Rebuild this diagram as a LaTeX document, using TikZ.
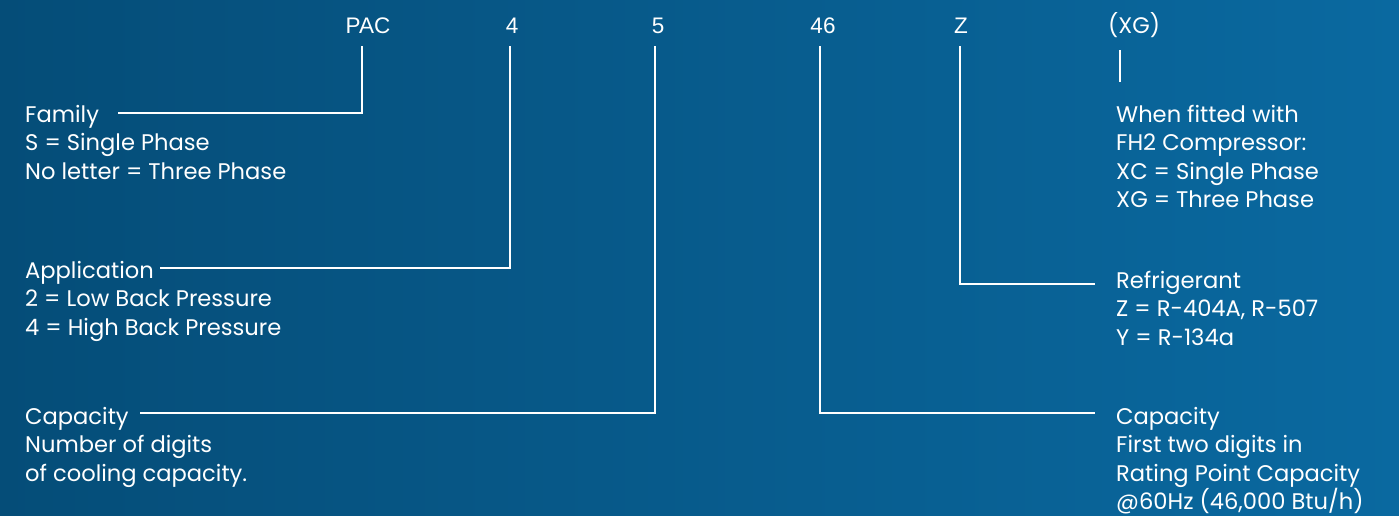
\documentclass[tikz,border=0pt]{standalone}
\usepackage{fontspec}
\setmainfont{Poppins}
\newfontfamily\labfont{Liberation Sans}
\definecolor{bgleft}{HTML}{054D78}
\definecolor{bgright}{HTML}{0A69A0}
\begin{document}
\begin{tikzpicture}[x=1pt,y=-1pt,
  toplab/.style={text=white,font=\labfont\fontsize{22.5}{26}\selectfont,inner sep=0pt,anchor=base},
  body/.style={text=white,font=\fontsize{22.6}{28.6}\selectfont,inner sep=0pt,anchor=base west,align=left},
  conn/.style={draw=white,line width=2pt}]
\useasboundingbox (0,0) rectangle (1399,515);
\shade[left color=bgleft,right color=bgright] (0,0) rectangle (1399,515);
% top code labels
\node[toplab] (pac) at (368,33) {PAC};
\node[toplab] (n4) at (512,33) {4};
\node[toplab] (n5) at (658,33) {5};
\node[toplab] (n46) at (823,33) {46};
\node[toplab] (nz) at (961,33) {Z};
\node[toplab,font=\fontsize{22.5}{26}\selectfont] (nxg) at (1134,33) {(XG)};
% description blocks (base anchor = last line)
\node[body] (family) at (25,179.2) {Family\\S = Single Phase\\No letter = Three Phase};
\node[body] (app) at (25,335.2) {Application\\2 = Low Back Pressure\\4 = High Back Pressure};
\node[body] (capl) at (25,481.2) {Capacity\\Number of digits\\of cooling capacity.};
\node[body] (xgtxt) at (1116,207.8) {When fitted with\\FH2 Compressor:\\XC = Single Phase\\XG = Three Phase};
\node[body] (refr) at (1116,345.2) {Refrigerant\\Z = R-404A, R-507\\Y = R-134a};
\node[body] (capr) at (1116,509.8) {Capacity\\First two digits in\\Rating Point Capacity\\@60Hz (46,000 Btu/h)};
% connector end points
\coordinate (e1) at (118,113);
\coordinate (e2) at (160,268);
\coordinate (e3) at (140,413);
\coordinate (e4) at (1095,413);
\coordinate (e5) at (1095,284);
\coordinate (e6) at (1120,82);
\draw[conn] (pac.south -| 362,0) ++(0,13) -- (362,113) -- (e1);
\draw[conn] (n4.south -| 510,0) ++(0,13) -- (510,268) -- (e2);
\draw[conn] (n5.south -| 655,0) ++(0,13) -- (655,413) -- (e3);
\draw[conn] (n46.south -| 820,0) ++(0,13) -- (820,413) -- (e4);
\draw[conn] (nz.south -| 960,0) ++(0,13) -- (960,284) -- (e5);
\draw[conn] (1120,50) -- (e6);
\end{tikzpicture}
\end{document}
